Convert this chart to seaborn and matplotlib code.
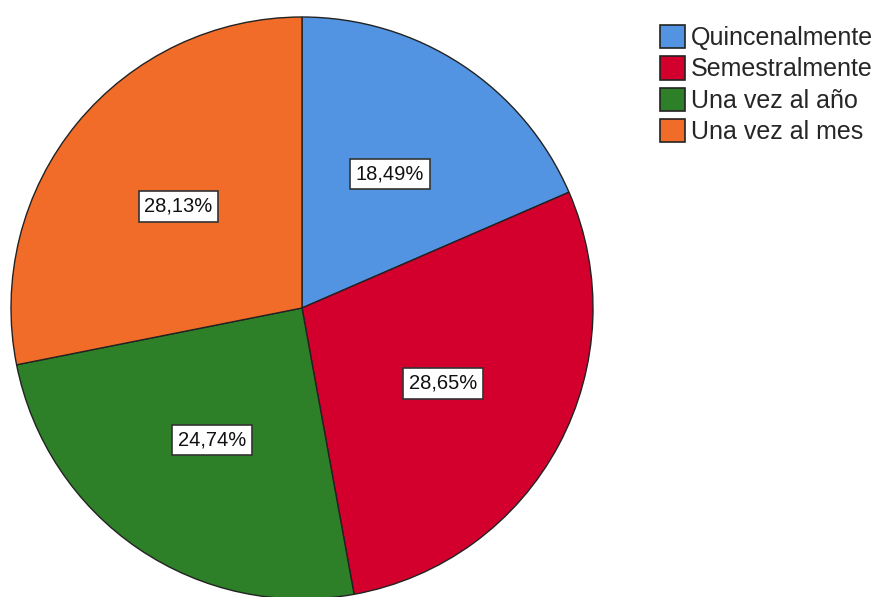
import matplotlib
matplotlib.use("Agg")
import matplotlib.pyplot as plt
import seaborn as sns
from matplotlib.patches import Patch

categories = ["Quincenalmente", "Semestralmente", "Una vez al año", "Una vez al mes"]
values = [18.49, 28.65, 24.74, 28.13]
colors = ["#5294E2", "#D3002E", "#2E8028", "#F26C29"]

sns.set_theme(style="white")
plt.rcParams['font.family'] = ['Liberation Sans', 'DejaVu Sans']

fig = plt.figure(figsize=(8.83, 5.97), dpi=100)
ax = fig.add_axes([11/883, -2/597, 582/883, 582/597])

wedges, texts, autotexts = ax.pie(
    values, colors=colors, startangle=90, counterclock=False,
    autopct=lambda p: f"{p:.2f}%".replace(".", ","), pctdistance=0.55,
    wedgeprops=dict(edgecolor="#222222", linewidth=1.0),
    textprops=dict(fontsize=14.5, color="#111111"),
)
for t in autotexts:
    t.set_bbox(dict(facecolor="white", edgecolor="#333333", linewidth=1.2, boxstyle="square,pad=0.28"))

ax.set_xlim(-1, 1)
ax.set_ylim(-1, 1)
ax.set_aspect("equal")
ax.axis("off")

handles = [Patch(facecolor=c, edgecolor="#222222", linewidth=1.2) for c in colors]
fig.legend(handles, categories, loc="upper left", bbox_to_anchor=(660/883, 1 - 25/597),
           frameon=False, fontsize=18, handlelength=1.0, handleheight=1.05,
           handletextpad=0.25, labelspacing=0.25, borderaxespad=0, borderpad=0)

fig.savefig("out.png", dpi=100)
